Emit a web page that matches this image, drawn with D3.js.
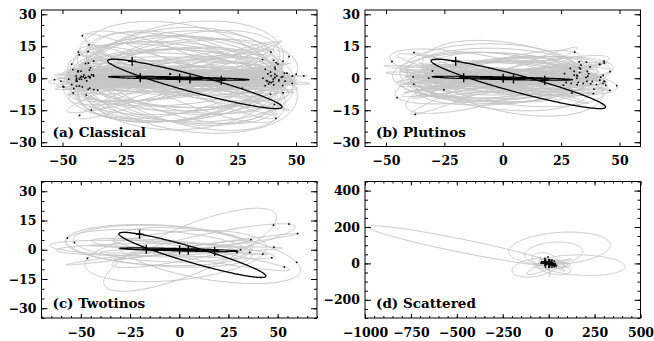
<!DOCTYPE html>
<html>
<head>
<meta charset="utf-8">
<script src="https://cdn.jsdelivr.net/npm/d3@7"></script>
<style>
  body { margin: 0; background: #fff; }
  svg { display: block; }
  text { font-family: "DejaVu Serif", serif; font-weight: bold; font-size: 12.5px; fill: #000; }
  .label { font-size: 13.5px; }
</style>
</head>
<body>
<svg id="chart" width="654" height="341"></svg>
<script>
// each object: [a (AU), e, i (deg), node (deg), peri (deg), u = current argument of latitude (deg)]
const classical = [
  [43.8,0.04,1.2,30,110,310], [44.5,0.07,2.4,75,200,125], [45.2,0.10,3.1,160,40,45], [42.9,0.02,0.8,220,300,160],
  [46.3,0.14,4.5,300,70,40], [43.5,0.06,1.8,10,250,150], [44.1,0.08,2.9,95,15,290], [47.0,0.17,3.6,185,130,335],
  [45.8,0.12,0.5,250,60,270], [43.2,0.03,2.2,330,190,230], [44.8,0.09,5.0,55,280,280], [46.0,0.15,1.5,120,330,35],
  [42.5,0.01,3.4,200,10,5], [44.3,0.06,4.1,275,90,105], [45.5,0.11,2.7,15,160,80], [43.0,0.05,1.0,170,220,30],
  [47.5,0.19,2.0,65,350,270], [44.7,0.07,3.8,235,120,290], [43.9,0.04,4.8,305,40,150], [45.0,0.13,0.9,345,270,40],
  [46.6,0.16,3.3,110,180,230], [43.6,0.05,2.5,190,75,10], [44.4,0.08,4.6,40,305,115], [45.9,0.10,1.7,260,150,120],
  [42.8,0.03,3.0,85,40,190], [44.9,0.12,5.5,150,235,180], [46.9,0.18,2.3,320,100,200], [43.3,0.07,4.0,5,180,20],
  [44.6,0.09,1.4,130,20,80], [45.3,0.06,3.7,215,290,130],
  [44.0,0.05,2.0,50,100,300], [45.6,0.11,3.5,200,30,160], [43.4,0.04,1.1,290,260,60], [46.5,0.16,4.2,15,320,330],
  [44.2,0.07,5.8,110,200,60], [42.6,0.02,2.6,180,140,25], [45.1,0.09,0.7,240,80,110], [47.4,0.20,3.9,330,10,190],
  [43.8,0.06,4.4,70,290,280], [44.9,0.10,1.9,150,170,200], [46.1,0.13,6.0,260,50,95], [43.1,0.03,3.3,20,230,330],
  [45.4,0.12,2.1,125,300,40], [44.3,0.08,5.2,205,120,150], [46.8,0.18,1.3,285,240,60], [43.5,0.05,4.9,355,20,200],
  [45.7,0.11,2.8,95,75,280], [44.6,0.07,6.4,175,330,10], [42.9,0.04,0.6,230,190,300], [47.1,0.19,3.1,60,130,130],
  [44.2,0.07,6.5,20,130,320], [45.7,0.11,8.0,100,45,60], [43.7,0.05,7.2,175,260,210], [46.2,0.14,9.5,280,15,235],
  [44.0,0.09,11.0,5,200,15], [45.1,0.10,12.5,140,95,65], [43.4,0.04,10.0,230,330,110], [47.2,0.20,6.8,60,180,250],
  [44.5,0.08,13.5,320,60,200], [45.6,0.12,8.8,195,230,190], [43.1,0.03,14.5,85,300,95], [46.4,0.15,5.8,250,110,310],
  [44.9,0.06,9.0,125,20,250], [45.3,0.09,7.7,350,145,185], [42.7,0.02,12.0,40,250,300], [44.3,0.11,6.2,300,80,80],
  [46.8,0.17,10.8,165,300,0], [43.9,0.07,14.0,210,170,120], [45.0,0.08,5.3,75,10,130], [44.6,0.13,8.3,270,220,250],
  [44.0,0.08,17.0,15,60,200], [45.5,0.12,20.0,170,250,340], [43.2,0.05,22.5,100,130,80], [46.0,0.15,25.0,200,20,175],
  [44.7,0.10,27.5,330,300,15], [42.9,0.04,30.0,35,190,160], [45.8,0.11,18.5,250,85,110], [44.1,0.07,32.0,150,45,10],
  [46.7,0.16,23.0,285,160,255], [43.6,0.06,19.5,60,230,300], [45.2,0.09,28.5,120,340,240], [44.4,0.12,16.0,225,270,130],
  [47.3,0.21,21.0,5,100,185], [43.0,0.03,34.0,185,15,350], [45.9,0.14,26.0,75,200,100], [44.8,0.08,15.5,310,35,50],
  [46.3,0.13,24.5,160,120,20], [43.8,0.05,29.0,350,260,190], [45.4,0.10,17.8,95,70,85], [44.2,0.09,21.8,265,310,280],
  [44.5,0.09,19.0,175,140,330], [45.8,0.13,24.0,10,220,200], [43.3,0.05,27.0,200,80,160], [46.1,0.14,31.0,340,290,20],
  [44.0,0.06,22.0,30,10,170], [45.0,0.11,26.5,190,170,350], [43.7,0.07,18.0,345,330,200], [46.5,0.15,29.5,165,60,20],
  [44.8,0.10,33.0,20,250,150], [45.2,0.08,20.5,195,100,0]
];
const plutinos = [
  [39.5,0.22,4.2,30,90,300], [39.3,0.10,8.5,120,210,215], [39.6,0.28,12.0,200,300,130], [39.4,0.18,2.5,250,40,85],
  [39.2,0.05,15.5,340,160,45], [39.5,0.30,6.8,75,280,265], [39.4,0.15,19.0,160,20,0], [39.7,0.26,10.5,290,130,50],
  [39.3,0.08,1.5,10,250,20], [39.5,0.20,14.0,180,70,25], [39.6,0.32,3.8,60,330,275], [39.4,0.12,22.0,230,100,110],
  [39.2,0.24,7.5,315,190,30], [39.5,0.17,11.0,95,15,240], [39.4,0.27,16.5,140,240,35], [39.6,0.09,5.5,205,160,130],
  [39.3,0.21,9.2,275,300,70], [39.5,0.14,20.5,20,50,5], [39.4,0.29,2.9,165,110,180], [39.7,0.19,13.2,345,220,355],
  [39.4,0.06,17.8,85,350,100], [39.5,0.23,8.0,190,80,330], [39.3,0.16,24.0,260,150,270], [39.6,0.31,6.0,40,260,310],
  [39.4,0.11,10.0,130,30,200], [39.5,0.25,14.8,300,200,35], [39.2,0.18,3.2,220,120,130], [39.6,0.13,18.5,5,290,10],
  [39.4,0.27,11.8,150,10,200], [39.5,0.07,7.0,320,170,10], [39.3,0.22,15.0,70,320,300], [39.7,0.33,4.5,240,60,100],
  [39.4,0.20,21.0,180,230,160], [39.5,0.15,9.8,285,280,60], [39.6,0.24,1.0,100,190,90], [39.4,0.10,12.7,355,90,350],
  [39.3,0.19,16.0,215,140,315], [39.5,0.28,5.0,135,350,200], [39.4,0.12,27.0,25,180,200], [39.6,0.26,8.8,265,30,75],
  [39.4,0.20,6.0,10,120,330], [39.5,0.26,9.5,190,250,150], [39.3,0.14,12.5,350,40,345], [39.6,0.30,4.0,170,300,170],
  [39.4,0.17,8.2,40,180,300], [39.5,0.23,15.5,200,60,140], [39.2,0.10,3.5,330,200,30], [39.6,0.28,10.8,150,330,190],
  [39.4,0.19,7.0,80,90,270], [39.5,0.25,13.0,260,20,90], [39.3,0.12,5.2,120,260,230], [39.6,0.29,11.2,300,150,45],
  [39.4,0.16,2.2,60,10,280], [39.5,0.21,17.0,180,200,160], [39.7,0.32,8.5,20,100,330]
];
const twotinos = [
  [47.8,0.38,5.5,20,340,330], [47.7,0.22,12.0,160,200,30], [47.9,0.30,8.0,260,300,100], [47.8,0.25,16.0,340,100,200],
  [47.7,0.33,3.0,100,170,260], [47.9,0.20,27.0,235,0,150], [47.8,0.36,10.0,70,60,290], [47.7,0.28,14.0,300,220,70],
  [47.8,0.23,6.5,130,330,230], [47.9,0.31,18.0,30,140,340], [47.7,0.26,2.0,220,20,130], [47.8,0.35,11.5,170,250,20],
  [47.9,0.21,7.8,280,80,95], [47.8,0.29,13.0,10,310,350], [47.7,0.34,4.0,190,190,180]
];
const scattered = [
  [520,0.935,16.3,134.4,225.4,230], [734,0.93,7,0,265,280], [356,0.90,10,0,265,270], [230,0.82,25,0,173,175],
  [130,0.70,30,0,31,40], [55,0.36,85,90,90,95], [90,0.55,15,40,200,210], [110,0.62,22,300,120,130],
  [75,0.45,35,10,300,310], [140,0.72,8,200,60,70], [65,0.40,20,150,20,30], [100,0.60,12,260,330,340],
  [85,0.50,28,80,160,170], [120,0.68,18,20,90,100]
];
// Jupiter, Saturn, Uranus, Neptune, then Pluto
const planets = [
  [5.20,0.048,1.30,100.5,273.9,347.5], [9.54,0.054,2.49,113.7,339.4,306],
  [19.19,0.047,0.77,74.0,96.7,82], [30.07,0.009,1.77,131.8,273.2,281]
];
const pluto = [39.48,0.249,17.14,110.3,113.8,113.8];

const panelNames = ['(a) Classical', '(b) Plutinos', '(c) Twotinos', '(d) Scattered'];
const kboXTicks = [-50, -25, 0, 25, 50];
const kboYTicks = [-30, -15, 0, 15, 30];
const sdXTicks = [-1000, -750, -500, -250, 0, 250, 500];
const sdYTicks = [-200, 0, 200, 400];

const rad = Math.PI / 180;

// X and Z components of the perihelion (P) and 90-deg (Q) unit vectors
function basis(o) {
  const [, , i, node, peri] = o;
  const ci = Math.cos(i * rad), si = Math.sin(i * rad);
  const cn = Math.cos(node * rad), sn = Math.sin(node * rad);
  const cw = Math.cos(peri * rad), sw = Math.sin(peri * rad);
  return { px: cn * cw - sn * sw * ci, pz: sw * si, qx: -cn * sw - sn * cw * ci, qz: cw * si };
}

function orbitPoints(o) {
  const [a, e] = o;
  const f = basis(o), b = a * Math.sqrt(1 - e * e);
  return d3.range(0, 361, 1).map(E => {
    const x = a * (Math.cos(E * rad) - e), y = b * Math.sin(E * rad);
    return [x * f.px + y * f.qx, x * f.pz + y * f.qz];
  });
}

function position(o) {
  const [a, e, , , peri, u] = o;
  const nu = (u - peri) * rad, r = a * (1 - e * e) / (1 + e * Math.cos(nu));
  const f = basis(o);
  return [r * (Math.cos(nu) * f.px + Math.sin(nu) * f.qx), r * (Math.cos(nu) * f.pz + Math.sin(nu) * f.qz)];
}

const panels = [
  { name: panelNames[0], orbits: classical, x0: 41.5, y0: 10, xd: [-59, 59], yd: [-32, 32], xt: kboXTicks, yt: kboYTicks, minor: 5 },
  { name: panelNames[1], orbits: plutinos, x0: 365, y0: 10, xd: [-59, 59], yd: [-32, 32], xt: kboXTicks, yt: kboYTicks, minor: 5 },
  { name: panelNames[2], orbits: twotinos, x0: 41.5, y0: 181.5, xd: [-70, 70], yd: [-35, 35], xt: kboXTicks, yt: kboYTicks, minor: 5 },
  { name: panelNames[3], orbits: scattered, x0: 365, y0: 181.5, xd: [-1000, 500], yd: [-300, 450], xt: sdXTicks, yt: sdYTicks, minor: 50 }
];
const W = 275.5, H = 136.5;

const svg = d3.select('#chart');

panels.forEach((p, k) => {
  const x = d3.scaleLinear().domain(p.xd).range([0, W]);
  const y = d3.scaleLinear().domain(p.yd).range([H, 0]);
  const g = svg.append('g').attr('transform', `translate(${p.x0},${p.y0})`);

  g.append('clipPath').attr('id', 'clip' + k)
    .append('rect').attr('width', W).attr('height', H);

  const plot = g.append('g').attr('clip-path', `url(#clip${k})`);
  const line = d3.line().x(d => x(d[0])).y(d => y(d[1]));

  plot.selectAll('path.orbit').data(p.orbits).join('path')
    .attr('class', 'orbit')
    .attr('d', d => line(orbitPoints(d)))
    .attr('fill', 'none')
    .attr('stroke', '#c6c6c6')
    .attr('stroke-width', 1);

  plot.selectAll('rect.kbo').data(p.orbits.map(position)).join('rect')
    .attr('class', 'kbo')
    .attr('x', d => x(d[0]) - 0.8)
    .attr('y', d => y(d[1]) - 0.8)
    .attr('width', 1.6).attr('height', 1.6)
    .attr('fill', '#000');

  plot.selectAll('path.planet').data(planets).join('path')
    .attr('class', 'planet')
    .attr('d', d => line(orbitPoints(d)))
    .attr('fill', 'none')
    .attr('stroke', '#000')
    .attr('stroke-width', 1.2);

  plot.append('path')
    .attr('d', line(orbitPoints(pluto)))
    .attr('fill', 'none')
    .attr('stroke', '#000')
    .attr('stroke-width', 1.3);

  const crosses = planets.concat([pluto]).map(position);
  plot.selectAll('path.cross').data(crosses).join('path')
    .attr('class', 'cross')
    .attr('d', d => {
      const cx = x(d[0]), cy = y(d[1]);
      return `M${cx - 4},${cy}H${cx + 4}M${cx},${cy - 4.5}V${cy + 4.5}`;
    })
    .attr('stroke', '#000')
    .attr('stroke-width', 1.4);

  // axes, ticks pointing inward on all four sides
  const xMinor = d3.range(p.xd[0], p.xd[1] + 1e-9, p.minor).filter(v => v % p.minor === 0);
  const yMinor = d3.range(Math.ceil(p.yd[0] / p.minor) * p.minor, p.yd[1] + 1e-9, p.minor);

  const addAxis = (axis, tx, ty) => {
    const a = g.append('g').attr('transform', `translate(${tx},${ty})`).call(axis);
    a.select('.domain').remove();
    return a;
  };
  addAxis(d3.axisBottom(x).tickValues(p.xt).tickSize(-4).tickPadding(10).tickFormat(d3.format('d')), 0, H);
  addAxis(d3.axisBottom(x).tickValues(xMinor).tickSize(-2).tickFormat(''), 0, H);
  addAxis(d3.axisTop(x).tickValues(p.xt).tickSize(-4).tickFormat(''), 0, 0);
  addAxis(d3.axisTop(x).tickValues(xMinor).tickSize(-2).tickFormat(''), 0, 0);
  addAxis(d3.axisLeft(y).tickValues(p.yt).tickSize(-6).tickPadding(5).tickFormat(d3.format('d')), 0, 0);
  addAxis(d3.axisLeft(y).tickValues(yMinor).tickSize(-3).tickFormat(''), 0, 0);
  addAxis(d3.axisRight(y).tickValues(p.yt).tickSize(-6).tickFormat(''), W, 0);
  addAxis(d3.axisRight(y).tickValues(yMinor).tickSize(-3).tickFormat(''), W, 0);

  g.append('rect')
    .attr('width', W).attr('height', H)
    .attr('fill', 'none').attr('stroke', '#000').attr('stroke-width', 1);

  g.append('text').attr('class', 'label')
    .attr('x', 11).attr('y', H - 10)
    .text(p.name);
});
</script>
</body>
</html>
